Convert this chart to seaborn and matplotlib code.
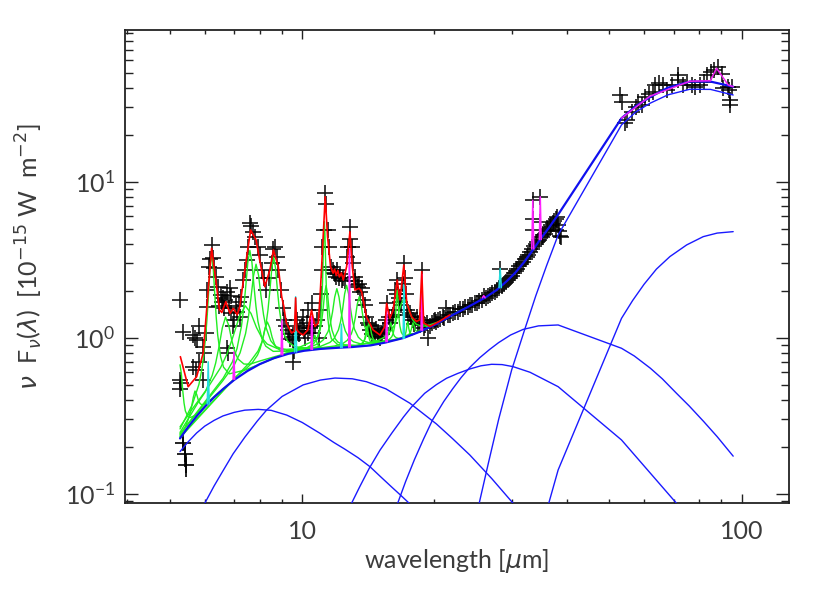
import matplotlib
matplotlib.use("Agg")
import matplotlib.pyplot as plt
import seaborn as sns
from matplotlib.ticker import LogLocator, NullFormatter, FixedLocator, FixedFormatter

# ---------------- data ----------------
# observed spectrum (wavelength in micron, nu F_nu in 1e-15 W m^-2)
obs_wave = [5.27, 5.36, 5.65, 5.70, 5.76, 5.83, 5.93, 5.27, 5.30, 5.28, 5.65, 5.73, 5.83, 5.93, 5.98,
            6.04, 6.06, 6.08, 6.14, 6.17, 6.22, 6.27, 6.30, 6.36, 6.43, 6.45, 6.53, 6.56, 6.61, 6.63, 6.67,
            6.73, 6.85, 6.80, 6.88, 6.90, 6.73, 6.78, 6.94, 7.00, 7.05, 7.12, 7.17, 7.22, 7.27, 7.33, 7.40,
            7.47, 7.53, 7.60, 7.65, 7.74, 7.80, 7.92, 8.00, 8.08, 8.18, 8.29, 8.40, 8.52, 8.60, 8.67, 8.74,
            8.82, 8.95, 9.02, 9.10, 9.20, 9.30, 9.35, 9.40, 9.46, 9.52, 9.60, 9.71, 9.51, 9.80, 9.85, 9.90,
            9.97, 10.05, 10.10, 10.15, 10.23, 10.30, 10.32, 10.40, 10.50, 10.60, 10.70, 10.78, 10.90, 10.97,
            11.01, 11.07, 11.12, 11.20, 11.28, 11.35, 11.44, 11.50, 11.60, 11.76, 11.80, 11.90, 11.95, 12.00,
            12.10, 12.20, 12.30, 12.36, 12.50, 12.62, 12.73, 12.84, 12.84, 12.95, 13.06, 13.18, 13.20, 13.35,
            13.40, 13.48, 13.55, 13.65, 13.76, 13.88, 14.00, 14.10, 14.20, 14.30, 14.38, 14.45, 14.56, 14.65,
            14.75, 14.85, 14.90, 15.00, 15.10, 15.20, 15.30, 15.40, 15.50, 15.60, 15.75, 15.85, 16.00, 16.10,
            16.15, 16.29, 16.40, 16.45, 16.60, 16.70, 16.80, 16.95, 17.06, 17.10, 17.20, 17.35, 17.45, 17.58,
            17.70, 17.85, 18.00, 18.05, 18.25, 18.35, 18.50, 18.65, 18.76, 18.90, 19.00, 19.20, 19.35, 19.50,
            19.70, 19.90, 20.05, 20.20, 20.40, 20.60, 20.90, 21.00, 21.20, 21.50,
            21.7, 22.0, 22.3, 22.6, 22.9, 23.2, 23.5, 23.8, 24.1, 24.4, 24.7, 25.0, 25.3, 25.6, 25.9, 26.2,
            26.5, 26.8, 27.1, 27.4, 27.7, 28.0, 28.22, 28.5, 28.8, 29.1, 29.4, 29.7, 30.0, 30.3, 30.6, 30.9,
            31.2, 31.5, 31.8, 32.1, 32.4, 32.7, 33.0, 33.3, 33.48, 33.48, 33.48, 33.7, 34.0, 34.3, 34.6,
            34.82, 34.82, 35.1, 35.4, 35.7, 36.0, 36.3, 36.6, 36.9, 37.2, 37.5, 37.8, 37.9, 38.1, 38.3, 38.4,
            38.7, 38.9,
            53.0, 53.3, 54.3, 54.9, 56.3, 57.6, 58.2, 59.2, 60.4, 61.6, 62.8, 63.5, 64.8, 66.2, 67.6, 69.4,
            71.7, 71.8, 73.6, 75.3, 77.0, 78.2, 80.3, 82.1, 83.4, 85.2, 86.5, 88.3, 90.2, 90.9, 93.0, 93.5,
            95.2, 94.1, 94.1]
obs_flux = [1.745, 1.09, 1.04, 1.00, 0.97, 1.18, 0.875, 0.536, 0.51, 0.47, 0.652, 0.62, 0.70, 0.536, 0.80,
            1.07, 1.58, 2.02, 2.85, 3.20, 3.93, 3.23, 2.80, 2.46, 2.12, 1.60, 1.88, 1.70, 1.79, 1.55, 1.75,
            1.97, 2.07, 1.55, 1.85, 1.43, 0.855, 0.80, 1.18, 1.30, 1.60, 1.45, 1.70, 1.36, 1.83, 2.34, 2.70,
            3.15, 3.83, 5.40, 5.20, 4.78, 4.40, 3.83, 3.40, 2.72, 2.40, 2.02, 2.40, 3.00, 3.70, 3.83, 3.30,
            2.72, 2.02, 1.54, 1.30, 1.18, 1.12, 1.05, 0.98, 1.01, 0.96, 0.82, 1.30, 0.70, 1.10, 1.05, 1.15,
            1.18, 1.36, 1.10, 1.00, 1.24, 1.07, 1.50, 1.15, 1.66, 1.07, 1.18, 1.30, 1.00, 1.50,
            1.90, 2.72, 3.83, 4.90, 8.40, 7.20, 4.90, 3.80, 2.85, 2.70, 2.60, 2.55, 2.45, 2.70,
            2.40, 2.55, 2.35, 2.40, 2.30, 3.31, 3.80, 5.15, 4.30, 3.80, 3.00, 2.45, 2.30, 2.18,
            2.10, 2.20, 1.95, 2.07, 1.75, 1.62, 1.36, 1.25, 1.20, 1.12, 1.18, 1.05, 1.10, 1.03,
            1.13, 1.08, 1.01, 1.00, 1.07, 1.05, 1.12, 1.15, 1.30, 1.66, 1.36, 1.25, 1.36, 1.40,
            1.50, 2.02, 1.90, 2.34, 1.80, 1.70, 1.62, 2.20, 3.00, 2.40, 1.90, 1.50, 1.40, 1.43,
            1.35, 1.30, 1.22, 1.27, 1.36, 1.25, 1.20, 1.30, 2.72, 1.15, 1.20, 1.24, 0.99, 1.18,
            1.24, 1.27, 1.30, 1.26, 1.30, 1.32, 1.36, 1.33, 1.55, 1.40,
            1.40, 1.43, 1.47, 1.46, 1.52, 1.52, 1.57, 1.58, 1.62, 1.63, 1.68, 1.67, 1.72, 1.74, 1.84, 1.80,
            1.85, 1.88, 1.93, 1.97, 2.02, 2.08, 2.75, 2.14, 2.22, 2.28, 2.35, 2.42, 2.50, 2.58, 2.66, 2.76,
            2.86, 2.95, 3.06, 3.18, 3.30, 3.40, 3.52, 3.70, 7.60, 5.80, 4.90, 3.85, 3.98, 4.10, 4.25,
            8.00, 5.50, 4.40, 4.55, 4.65, 4.85, 4.95, 5.15, 5.30, 5.45, 5.60, 5.75, 4.90, 5.95, 5.30, 4.80,
            4.50, 4.40,
            36.0, 32.5, 23.7, 25.0, 28.1, 30.0, 32.6, 31.0, 34.8, 36.5, 37.5, 41.7, 43.0, 41.7, 38.7, 41.7,
            48.3, 44.7, 41.7, 43.8, 41.7, 40.6, 41.7, 43.8, 48.3, 50.5, 52.0, 54.0, 49.0, 39.7, 40.6, 38.7,
            40.6, 33.4, 30.9]

# low signal points with large error bars
low_wave = [5.36, 5.40, 5.44]
low_flux = [0.210, 0.179, 0.153]
low_err_lo = [0.02, 0.03, 0.025]
low_err_hi = [0.02, 0.03, 0.026]

# total fitted model (red)
model_wave = [5.28, 5.50, 5.75, 5.95, 6.11, 6.22, 6.33, 6.48, 6.56, 6.70, 6.85, 6.97, 7.11, 7.21, 7.44,
              7.63, 7.85, 8.00, 8.22, 8.44, 8.60, 8.82, 8.98, 9.08, 9.20, 9.46, 9.60, 9.66, 9.72, 9.88,
              10.05, 10.30, 10.50, 10.69, 10.88, 11.01, 11.16, 11.28, 11.42, 11.60, 11.76, 11.85, 11.95,
              12.05, 12.15, 12.28, 12.40, 12.62, 12.84, 13.00, 13.18, 13.48, 13.65, 14.00, 14.50, 15.03,
              15.42, 15.56, 15.83, 16.10, 16.45, 16.69, 17.03, 17.30, 17.74, 18.20, 18.50, 18.71, 18.90,
              19.53, 20.50, 21.68]
model_flux = [0.755, 0.485, 0.562, 0.795, 2.02, 3.74, 2.59, 1.51, 1.45, 1.70, 1.43, 1.54, 1.40, 1.58, 3.00,
              4.90, 4.23, 3.15, 2.12, 2.72, 3.65, 2.85, 1.83, 1.58, 1.24, 1.07, 1.10, 1.80, 1.12, 1.07,
              1.04, 1.12, 1.50, 1.18, 1.24, 2.12, 4.44, 8.01, 4.44, 2.85, 2.59, 2.75, 2.50,
              2.70, 2.45, 2.60, 2.34, 2.85, 4.78, 2.85, 2.02, 2.07, 1.97, 1.36, 1.12, 1.04,
              1.18, 1.66, 1.33, 1.50, 2.34, 1.745, 2.92, 1.66, 1.36, 1.27, 1.30, 2.65, 1.24,
              1.18, 1.27, 1.40]

# total continuum (thick blue)
cont_wave = [5.27, 5.5, 5.75, 6.0, 6.3, 6.6, 7.0, 7.5, 8.0, 8.6, 9.3, 10.1, 11.0, 12.0, 13.0, 14.3, 15.5,
             17.0, 18.5, 20.2, 21.7, 23.2, 24.7, 26.2, 27.7, 29.2, 30.6, 32.0, 33.5, 35.0, 36.5, 38.24,
             53.3, 57.5, 61.9, 68.0, 76.3, 84.9, 95.7]
cont_flux = [0.226, 0.268, 0.314, 0.36, 0.415, 0.468, 0.536, 0.611, 0.676, 0.737, 0.788, 0.824, 0.847,
             0.861, 0.871, 0.892, 0.932, 0.995, 1.09, 1.225, 1.37, 1.51, 1.66, 1.82, 2.02, 2.30, 2.62,
             3.05, 3.65, 4.35, 5.10, 6.15, 25.5, 30.5, 34.8, 40.0, 43.8, 43.8, 40.6]

# individual dust continuum components (thin blue)
dust1_wave = [5.27, 5.5, 5.75, 6.0, 6.3, 6.6, 7.0, 7.4, 7.94, 8.5, 9.22, 10.0, 10.97, 11.8, 12.5, 13.4,
              14.26, 15.1, 16.0, 16.8, 17.52]
dust1_flux = [0.186, 0.215, 0.245, 0.271, 0.295, 0.315, 0.332, 0.343, 0.347, 0.342, 0.319, 0.286, 0.244,
              0.213, 0.193, 0.170, 0.149, 0.128, 0.110, 0.097, 0.0868]
dust2_wave = [6.0, 6.3, 6.6, 6.96, 7.4, 7.9, 8.3, 9.0, 10.05, 11.0, 11.87, 13.0, 14.0, 15.5, 17.58, 20.2,
              22.0, 24.07, 27.0, 30.2]
dust2_flux = [0.0868, 0.112, 0.14, 0.18, 0.23, 0.292, 0.344, 0.42, 0.498, 0.535, 0.551, 0.545, 0.522,
              0.47, 0.38, 0.28, 0.225, 0.177, 0.125, 0.0868]
dust3_wave = [12.95, 13.5, 14.2, 15.03, 16.0, 17.0, 17.74, 19.0, 20.2, 21.3, 22.6, 24.07, 25.5, 26.98,
              28.5, 30.2, 33.0, 35.5, 38.24, 53.3, 71.1]
dust3_flux = [0.0868, 0.11, 0.145, 0.19, 0.245, 0.31, 0.36, 0.44, 0.50, 0.549, 0.59, 0.63, 0.66, 0.675,
              0.672, 0.652, 0.60, 0.54, 0.485, 0.221, 0.0868]
dust4_wave = [16.49, 17.2, 18.0, 18.9, 19.8, 21.0, 22.0, 23.0, 24.07, 25.37, 26.7, 28.0, 29.8, 31.84,
              34.5, 38.24, 53.3, 57.0, 62.0, 66.0, 71.1, 76.0, 82.0, 88.0, 95.7]
dust4_flux = [0.0868, 0.12, 0.165, 0.225, 0.297, 0.39, 0.47, 0.555, 0.645, 0.745, 0.84, 0.93, 1.04,
              1.13, 1.19, 1.206, 0.855, 0.763, 0.637, 0.545, 0.44, 0.365, 0.29, 0.232, 0.174]
dust5_wave = [25.28, 26.5, 28.0, 29.97, 32.0, 34.0, 36.0, 38.24, 53.3, 57.5, 61.9, 68.0, 76.3, 85.0, 95.7]
dust5_flux = [0.0868, 0.155, 0.30, 0.621, 1.10, 1.85, 2.90, 4.55, 23.1, 28.0, 31.8, 36.0, 39.1, 39.0, 35.9]
dust6_wave = [36.4, 38.24, 53.3, 56.5, 60.0, 64.0, 68.7, 75.0, 81.8, 88.0, 95.7]
dust6_flux = [0.0868, 0.142, 1.33, 1.73, 2.2, 2.75, 3.31, 3.93, 4.44, 4.68, 4.78]

# PAH features on top of the continuum (green), one list per feature
pah_names = ["5.27", "5.70", "6.22", "6.69", "7.42", "7.60", "7.85", "8.33", "8.61", "10.68", "11.23",
             "11.33", "11.99", "12.62", "13.48", "14.04", "14.19", "15.9", "16.45", "17.04", "17.375",
             "17.87", "18.92"]
pah_wave = [
    [5.27, 5.3075, 5.345, 5.3825, 5.42, 5.495, 5.57, 5.72, 6.0, 6.5],
    [5.27, 5.4, 5.5, 5.55, 5.6, 5.65, 5.7, 5.75, 5.8, 5.85, 5.9, 6.0, 6.1, 6.4, 7.0],
    [5.27, 5.62, 5.82, 5.92, 6.02, 6.07, 6.12, 6.17, 6.22, 6.27, 6.32, 6.37, 6.42, 6.52, 6.62, 6.82,
     7.4, 9.0],
    [5.27, 5.79, 6.015, 6.24, 6.3525, 6.465, 6.5775, 6.69, 6.8025, 6.915, 7.0275, 7.14, 7.365, 7.59,
     8.04, 9.4],
    [5.27, 5.62, 6.07, 6.52, 6.745, 6.97, 7.195, 7.42, 7.645, 7.87, 8.095, 8.32, 8.77, 9.22, 10.12, 12.8],
    [5.27, 6.61, 6.94, 7.105, 7.27, 7.3525, 7.435, 7.5175, 7.6, 7.6825, 7.765, 7.8475, 7.93, 8.095, 8.26,
     8.59, 9.58, 12.0],
    [5.27, 6.59, 7.01, 7.22, 7.43, 7.535, 7.64, 7.745, 7.85, 7.955, 8.06, 8.165, 8.27, 8.48, 8.69, 9.11,
     10.37, 13.0],
    [5.27, 7.07, 7.49, 7.70, 7.91, 8.015, 8.12, 8.225, 8.33, 8.435, 8.54, 8.645, 8.75, 8.96, 9.17, 9.59,
     10.85],
    [5.27, 7.59, 7.93, 8.10, 8.27, 8.355, 8.44, 8.525, 8.61, 8.695, 8.78, 8.865, 8.95, 9.12, 9.29, 9.63,
     10.65, 13.0],
    [9.5, 10.05, 10.26, 10.365, 10.47, 10.5225, 10.575, 10.6275, 10.68, 10.7325, 10.785, 10.8375, 10.89,
     10.995, 11.1, 11.31, 12.0],
    [9.0, 10.81, 10.95, 11.02, 11.09, 11.125, 11.16, 11.195, 11.23, 11.265, 11.30, 11.335, 11.37, 11.44,
     11.51, 11.65, 12.07, 14.0],
    [9.5, 10.25, 10.61, 10.79, 10.97, 11.06, 11.15, 11.24, 11.33, 11.42, 11.51, 11.60, 11.69, 11.87,
     12.05, 12.41, 13.5],
    [9.5, 10.37, 10.91, 11.18, 11.45, 11.585, 11.72, 11.855, 11.99, 12.125, 12.26, 12.395, 12.53, 12.80,
     13.07, 13.61, 15.2],
    [10.0, 11.03, 11.56, 11.825, 12.09, 12.2225, 12.355, 12.4875, 12.62, 12.7525, 12.885, 13.0175, 13.15,
     13.415, 13.68, 14.21, 15.8],
    [10.5, 11.86, 12.4, 12.67, 12.94, 13.075, 13.21, 13.345, 13.48, 13.615, 13.75, 13.885, 14.02, 14.29,
     14.56, 15.10, 16.7],
    [12.5, 13.35, 13.58, 13.695, 13.81, 13.8675, 13.925, 13.9825, 14.04, 14.0975, 14.155, 14.2125, 14.27,
     14.385, 14.5, 14.73, 15.5],
    [12.5, 13.11, 13.47, 13.65, 13.83, 13.92, 14.01, 14.10, 14.19, 14.28, 14.37, 14.46, 14.55, 14.73,
     14.91, 15.27, 16.5],
    [14.0, 14.94, 15.26, 15.42, 15.58, 15.66, 15.74, 15.82, 15.9, 15.98, 16.06, 16.14, 16.22, 16.38,
     16.54, 16.86, 18.0],
    [14.5, 15.76, 15.99, 16.105, 16.22, 16.2775, 16.335, 16.3925, 16.45, 16.5075, 16.565, 16.6225, 16.68,
     16.795, 16.91, 17.14, 18.0],
    [13.5, 14.84, 15.39, 15.94, 16.215, 16.49, 16.765, 17.04, 17.315, 17.59, 17.865, 18.14, 18.69, 19.24,
     20.34, 23.6],
    [16.5, 16.745, 16.955, 17.06, 17.165, 17.2175, 17.27, 17.3225, 17.375, 17.4275, 17.48, 17.5325,
     17.585, 17.69, 17.795, 18.005, 18.6],
    [16.5, 17.0, 17.29, 17.435, 17.58, 17.6525, 17.725, 17.7975, 17.87, 17.9425, 18.015, 18.0875, 18.16,
     18.305, 18.45, 18.74, 20.0],
    [17.0, 17.84, 18.2, 18.38, 18.56, 18.65, 18.74, 18.83, 18.92, 19.01, 19.10, 19.19, 19.28, 19.46,
     19.64, 20.0, 21.0],
]
pah_flux = [
    [0.670, 0.587, 0.460, 0.381, 0.339, 0.311, 0.308, 0.319, 0.365, 0.452],
    [0.234, 0.262, 0.298, 0.323, 0.361, 0.415, 0.455, 0.434, 0.398, 0.379, 0.372, 0.375, 0.387, 0.436,
     0.537],
    [0.26, 0.372, 0.502, 0.645, 0.97, 1.308, 1.903, 2.828, 3.447, 2.846, 1.94, 1.363, 1.043, 0.755, 0.647,
     0.586, 0.619, 0.772],
    [0.247, 0.383, 0.449, 0.574, 0.687, 0.874, 1.154, 1.354, 1.199, 0.957, 0.808, 0.731, 0.678, 0.675,
     0.711, 0.808],
    [0.268, 0.349, 0.469, 0.643, 0.788, 1.031, 1.366, 1.600, 1.430, 1.160, 0.996, 0.910, 0.852, 0.842,
     0.854, 0.876],
    [0.241, 0.551, 0.702, 0.852, 1.177, 1.513, 2.102, 3.014, 3.625, 3.036, 2.147, 1.582, 1.268, 0.988,
     0.882, 0.817, 0.824, 0.865],
    [0.241, 0.528, 0.672, 0.799, 1.061, 1.324, 1.78, 2.484, 2.957, 2.509, 1.832, 1.401, 1.164, 0.955,
     0.88, 0.836, 0.847, 0.875],
    [0.228, 0.563, 0.642, 0.692, 0.773, 0.844, 0.963, 1.139, 1.26, 1.161, 1.006, 0.91, 0.862, 0.82,
     0.812, 0.819, 0.847],
    [0.233, 0.693, 0.82, 0.941, 1.214, 1.497, 1.996, 2.769, 3.287, 2.784, 2.026, 1.542, 1.274, 1.031,
     0.937, 0.874, 0.852, 0.875],
    [0.804, 0.827, 0.842, 0.853, 0.876, 0.899, 0.938, 0.999, 1.04, 1.001, 0.943, 0.906, 0.885, 0.867,
     0.861, 0.857, 0.862],
    [0.773, 0.976, 1.125, 1.32, 1.79, 2.298, 3.201, 4.611, 5.551, 4.612, 3.202, 2.301, 1.793, 1.324,
     1.131, 0.985, 0.896, 0.889],
    [0.814, 0.863, 0.914, 0.973, 1.106, 1.248, 1.499, 1.891, 2.153, 1.894, 1.505, 1.256, 1.117, 0.989,
     0.938, 0.90, 0.887],
    [0.816, 0.866, 0.918, 0.971, 1.094, 1.226, 1.458, 1.82, 2.061, 1.822, 1.463, 1.234, 1.106, 0.989,
     0.942, 0.911, 0.936],
    [0.833, 0.882, 0.932, 0.988, 1.122, 1.263, 1.515, 1.906, 2.166, 1.908, 1.519, 1.271, 1.132, 1.007,
     0.957, 0.928, 0.953],
    [0.844, 0.885, 0.921, 0.963, 1.06, 1.165, 1.349, 1.636, 1.828, 1.64, 1.356, 1.176, 1.076, 0.988,
     0.955, 0.945, 0.984],
    [0.868, 0.888, 0.899, 0.913, 0.944, 0.976, 1.035, 1.126, 1.186, 1.127, 1.039, 0.982, 0.951, 0.925,
     0.916, 0.912, 0.934],
    [0.869, 0.882, 0.90, 0.916, 0.954, 0.993, 1.061, 1.168, 1.239, 1.171, 1.068, 1.003, 0.967, 0.938,
     0.93, 0.933, 0.975],
    [0.888, 0.921, 0.942, 0.959, 0.995, 1.03, 1.091, 1.184, 1.248, 1.19, 1.103, 1.048, 1.02, 0.997,
     0.991, 0.995, 1.057],
    [0.902, 0.971, 1.014, 1.061, 1.171, 1.286, 1.49, 1.808, 2.02, 1.812, 1.50, 1.30, 1.19, 1.089, 1.051,
     1.031, 1.06],
    [0.897, 0.957, 1.008, 1.107, 1.204, 1.369, 1.621, 1.797, 1.653, 1.43, 1.293, 1.224, 1.182, 1.193,
     1.257, 1.556],
    [0.974, 0.99, 1.008, 1.023, 1.054, 1.084, 1.135, 1.213, 1.266, 1.219, 1.147, 1.103, 1.079, 1.06,
     1.057, 1.062, 1.10],
    [0.974, 1.0, 1.024, 1.04, 1.069, 1.095, 1.138, 1.202, 1.247, 1.211, 1.156, 1.122, 1.105, 1.095,
     1.098, 1.113, 1.211],
    [0.996, 1.048, 1.076, 1.095, 1.121, 1.141, 1.171, 1.213, 1.244, 1.227, 1.198, 1.183, 1.177, 1.18,
     1.189, 1.214, 1.301],
]

# molecular hydrogen lines (cyan): wavelength, base and peak
h2_center = [6.11, 9.66, 12.28, 17.03, 28.22]
h2_halfwidth = [0.03, 0.05, 0.05, 0.06, 0.17]
h2_base = [0.375, 0.81, 0.864, 0.99, 2.09]
h2_peak = [0.70, 1.83, 1.22, 2.18, 2.78]

# atomic fine-structure lines (magenta)
ion_center = [6.99, 8.99, 10.51, 12.81, 15.56, 18.71, 25.89, 33.48, 34.82]
ion_halfwidth = [0.03, 0.04, 0.04, 0.05, 0.06, 0.07, 0.19, 0.18, 0.17]
ion_base = [0.54, 0.775, 0.84, 0.869, 0.941, 1.115, 1.80, 3.70, 4.25]
ion_peak = [0.81, 1.30, 1.36, 3.70, 1.55, 2.55, 1.86, 7.60, 8.00]

# far-infrared total model including [OIII] 88 micron (magenta)
fir_wave = [53.3, 61.9, 76.3, 84.9, 87.7, 93.2, 95.7]
fir_flux = [25.5, 35.3, 44.0, 44.3, 53.3, 41.7, 40.6]

x_ticks = [10, 100]
x_tick_labels = ["10", "100"]

# ---------------- drawing ----------------
sns.set_style("ticks")
plt.rcParams['font.family'] = ['Lato', 'DejaVu Sans']
plt.rcParams['mathtext.fontset'] = 'dejavusans'
text_color = '#3c3c3c'

fig = plt.figure(figsize=(8.30, 5.93), dpi=100)
ax = fig.add_axes([0.1506, 0.1513, 0.7996, 0.7987])
ax.set_xscale('log')
ax.set_yscale('log')


def curve(x, y, color, lw, z):
    sns.lineplot(x=x, y=y, color=color, lw=lw, sort=False, estimator=None, ax=ax, zorder=z)


# data
sns.scatterplot(x=obs_wave, y=obs_flux, marker='+', s=135, color='black', linewidth=1.2,
                alpha=0.9, ax=ax, zorder=2, legend=False)
ax.errorbar(low_wave, low_flux, yerr=[low_err_lo, low_err_hi], fmt='+', color='black',
            ms=11, mew=1.2, elinewidth=1.2, capsize=0, zorder=2)

# dust components
for xw, yf in [(dust1_wave, dust1_flux), (dust2_wave, dust2_flux), (dust3_wave, dust3_flux),
               (dust4_wave, dust4_flux), (dust5_wave, dust5_flux), (dust6_wave, dust6_flux)]:
    curve(xw, yf, '#1a1aff', 1.0, 3)

# PAH features
for xw, yf in zip(pah_wave, pah_flux):
    curve(xw, yf, '#22ee22', 1.0, 4)

# total continuum
curve(cont_wave, cont_flux, '#1010ee', 1.6, 5)

# lines
for c, hw, b, p in zip(h2_center, h2_halfwidth, h2_base, h2_peak):
    curve([c - hw, c, c + hw], [b, p, b], '#22dddd', 1.1, 6)
for c, hw, b, p in zip(ion_center, ion_halfwidth, ion_base, ion_peak):
    curve([c - hw, c, c + hw], [b, p, b], '#ff22ff', 1.1, 6)
curve(fir_wave, fir_flux, '#ee22ee', 1.1, 6)

# total model
curve(model_wave, model_flux, '#ff0000', 1.2, 7)

ax.set_xlim(3.95, 128)
ax.set_ylim(0.0868, 94.2)

ax.xaxis.set_major_locator(FixedLocator(x_ticks))
ax.xaxis.set_major_formatter(FixedFormatter(x_tick_labels))
ax.xaxis.set_minor_locator(LogLocator(base=10, subs=range(2, 10), numticks=20))
ax.xaxis.set_minor_formatter(NullFormatter())
ax.yaxis.set_major_locator(LogLocator(base=10, numticks=10))
ax.yaxis.set_minor_locator(LogLocator(base=10, subs=range(2, 10), numticks=20))
ax.yaxis.set_minor_formatter(NullFormatter())

ax.tick_params(axis='x', which='major', direction='in', length=6.5, width=1.0, top=True,
               pad=12, labelsize=18, colors='#222222', labelcolor=text_color)
ax.tick_params(axis='x', which='minor', direction='in', length=3.2, width=1.0, top=True,
               colors='#222222')
ax.tick_params(axis='y', which='major', direction='in', length=9.5, width=1.0, right=True,
               pad=7, labelsize=18, colors='#222222', labelcolor=text_color)
ax.tick_params(axis='y', which='minor', direction='in', length=5.5, width=1.0, right=True,
               colors='#222222')
for s in ax.spines.values():
    s.set_linewidth(1.3)
    s.set_color('#222222')
    s.set_visible(True)

ax.set_xlabel(r'wavelength [$\mu$m]', fontsize=18, color=text_color, labelpad=3)
ax.set_ylabel(r'$\nu$  F$_\nu$($\lambda$)  [10$^{-15}$ W  m$^{-2}$]', fontsize=18, color=text_color)
ax.yaxis.set_label_coords(-0.12, 0.52)

fig.savefig('out.png', dpi=100)
